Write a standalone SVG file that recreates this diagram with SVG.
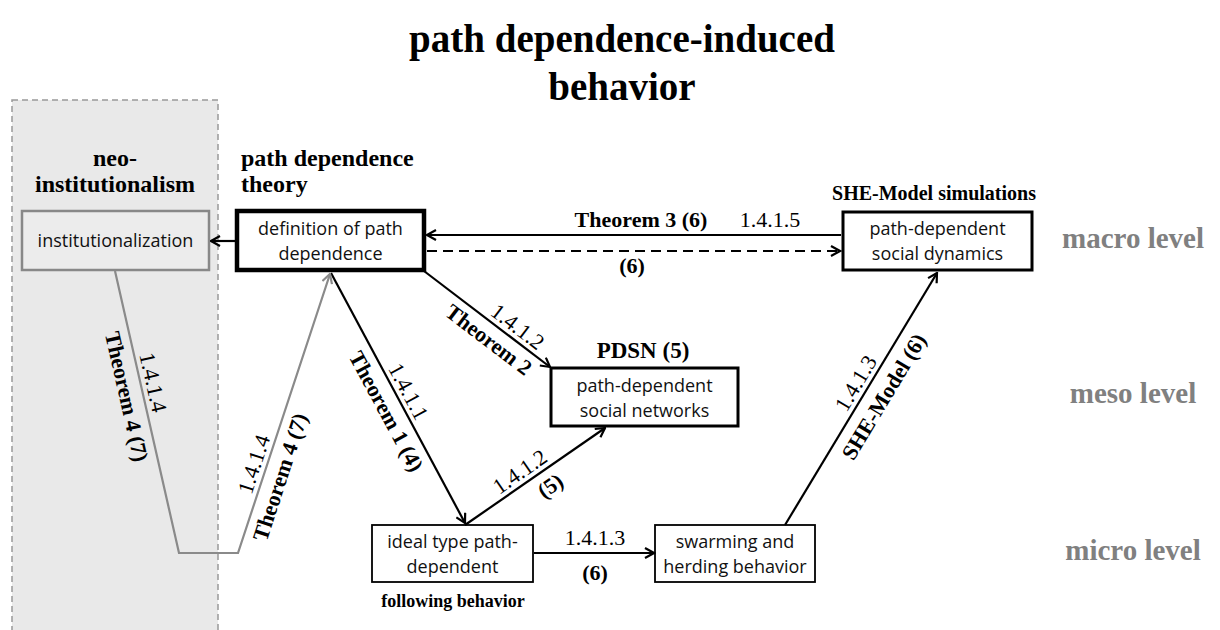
<svg xmlns="http://www.w3.org/2000/svg" width="1220" height="630" viewBox="0 0 1220 630">
  <defs>
    <style>
      .ser { font-family: "Liberation Serif", "Times New Roman", serif; }
      .b { font-weight: bold; }
      .lbl { font-family: "Liberation Serif", "Times New Roman", serif; font-size: 22px; fill: #000; }
      .box { font-family: "Open Sans", "Liberation Sans", sans-serif; font-size: 18px; fill: #111; text-anchor: middle; }
      .lvl { font-family: "Liberation Serif", "Times New Roman", serif; font-size: 29px; font-weight: bold; fill: #808080; text-anchor: middle; }
      .hdr { font-family: "Liberation Serif", "Times New Roman", serif; font-size: 24px; font-weight: bold; fill: #000; }
      .conn { fill: none; stroke: #000; stroke-width: 2.2; }
      .gray { fill: none; stroke: #8a8a8a; stroke-width: 2.2; }
    </style>
    <marker id="ah" viewBox="0 0 12 12" markerWidth="12" markerHeight="12" refX="10.5" refY="6" orient="auto" markerUnits="userSpaceOnUse">
      <path d="M1.5,1 L10.5,6 L1.5,11" fill="none" stroke="#000" stroke-width="2.2"/>
    </marker>
    <marker id="ahg" viewBox="0 0 12 12" markerWidth="12" markerHeight="12" refX="10.5" refY="6" orient="auto" markerUnits="userSpaceOnUse">
      <path d="M1.5,1 L10.5,6 L1.5,11" fill="none" stroke="#8a8a8a" stroke-width="2.2"/>
    </marker>
  </defs>

  <rect width="1220" height="630" fill="#fff"/>

  <!-- title -->
  <g id="title" class="ser b" font-size="39" text-anchor="middle">
    <text x="622" y="52">path dependence-induced</text>
    <text x="622" y="100">behavior</text>
  </g>

  <!-- neo-institutionalism region -->
  <g id="neo-institutionalism">
    <rect x="12" y="100" width="206" height="540" fill="#e9e9e9" stroke="#999" stroke-width="1.5" stroke-dasharray="6,4"/>
    <text class="hdr" x="115" y="166" text-anchor="middle">neo-</text>
    <text class="hdr" x="115" y="192" text-anchor="middle">institutionalism</text>
  </g>

  <!-- level labels -->
  <g id="levels">
    <text class="lvl" x="1133" y="248">macro level</text>
    <text class="lvl" x="1133" y="403">meso level</text>
    <text class="lvl" x="1133" y="560">micro level</text>
  </g>

  <!-- nodes -->
  <g id="institutionalization">
    <rect x="22" y="211" width="187" height="59" fill="#ececec" stroke="#888" stroke-width="2.5"/>
    <text class="box" x="115.5" y="247">institutionalization</text>
  </g>

  <g id="definition">
    <text class="hdr" x="241" y="166">path dependence</text>
    <text class="hdr" x="241" y="192">theory</text>
    <rect x="237" y="211" width="187" height="59" fill="#fff" stroke="#000" stroke-width="4.5"/>
    <text class="box" x="330.5" y="235">definition of path</text>
    <text class="box" x="330.5" y="260">dependence</text>
  </g>

  <g id="social-dynamics">
    <text class="ser b" font-size="20" x="934" y="200" text-anchor="middle">SHE-Model simulations</text>
    <rect x="843" y="212" width="189" height="58" fill="#fff" stroke="#000" stroke-width="3"/>
    <text class="box" x="937.5" y="235">path-dependent</text>
    <text class="box" x="937.5" y="260">social dynamics</text>
  </g>

  <g id="social-networks">
    <text class="ser b" font-size="23" x="643" y="358" text-anchor="middle">PDSN (5)</text>
    <rect x="551" y="368" width="187" height="58" fill="#fff" stroke="#000" stroke-width="3"/>
    <text class="box" x="644.5" y="392">path-dependent</text>
    <text class="box" x="644.5" y="417">social networks</text>
  </g>

  <g id="ideal-type">
    <rect x="372" y="525" width="161" height="57" fill="#fff" stroke="#000" stroke-width="1.8"/>
    <text class="box" x="452.5" y="548">ideal type path-</text>
    <text class="box" x="452.5" y="573">dependent</text>
    <text class="ser b" font-size="18" x="453" y="607" text-anchor="middle">following behavior</text>
  </g>

  <g id="swarming">
    <rect x="655" y="525" width="160" height="57" fill="#fff" stroke="#000" stroke-width="1.8"/>
    <text class="box" x="735" y="548">swarming and</text>
    <text class="box" x="735" y="573">herding behavior</text>
  </g>

  <!-- connectors -->
  <g id="connectors">
    <line class="conn" x1="235" y1="241" x2="211" y2="241" marker-end="url(#ah)"/>
    <line class="conn" x1="841" y1="235" x2="427" y2="235" marker-end="url(#ah)"/>
    <line class="conn" x1="427" y1="251" x2="840" y2="251" stroke-dasharray="10,6" marker-end="url(#ah)"/>
    <line class="conn" x1="424" y1="271" x2="550" y2="367" marker-end="url(#ah)"/>
    <line class="conn" x1="331" y1="273" x2="465" y2="523" marker-end="url(#ah)"/>
    <line class="conn" x1="465" y1="525" x2="605" y2="428" marker-end="url(#ah)"/>
    <line class="conn" x1="534" y1="553" x2="654" y2="553" marker-end="url(#ah)"/>
    <line class="conn" x1="785" y1="525" x2="937" y2="273" marker-end="url(#ah)"/>
    <polyline class="gray" points="115,271 179,553 238,553 330,274" marker-end="url(#ahg)"/>

    <!-- connector labels -->
    <g class="lbl">
      <text x="700" y="227" text-anchor="middle" font-weight="bold" dx="-59">Theorem 3 (6)</text>
      <text x="770" y="227" text-anchor="middle">1.4.1.5</text>
      <text x="632" y="273" text-anchor="middle" font-weight="bold">(6)</text>

      <g transform="translate(503,331) rotate(37.3)">
        <text x="9" y="-5" text-anchor="middle">1.4.1.2</text>
        <text x="-6" y="23" text-anchor="middle" font-weight="bold">Theorem 2</text>
      </g>

      <g transform="translate(399,400) rotate(61.8)">
        <text x="-3" y="-5" text-anchor="middle">1.4.1.1</text>
        <text x="4" y="24" text-anchor="middle" font-weight="bold">Theorem 1 (4)</text>
      </g>

      <g transform="translate(531,479) rotate(-34.7)">
        <text x="-5" y="-5" text-anchor="middle">1.4.1.2</text>
        <text x="12" y="24" text-anchor="middle" font-weight="bold">(5)</text>
      </g>

      <text x="595" y="545" text-anchor="middle">1.4.1.3</text>
      <text x="595" y="580" text-anchor="middle" font-weight="bold">(6)</text>

      <g transform="translate(868,387) rotate(-58.9)">
        <text x="-3" y="-5" text-anchor="middle">1.4.1.3</text>
        <text x="0" y="26" text-anchor="middle" font-weight="bold">SHE-Model (6)</text>
      </g>

      <g transform="translate(142,389) rotate(77.3)">
        <text x="-4" y="-5" text-anchor="middle">1.4.1.4</text>
        <text x="4" y="24" text-anchor="middle" font-weight="bold">Theorem 4 (7)</text>
      </g>

      <g transform="translate(265,470) rotate(-71.8)">
        <text x="2" y="-5" text-anchor="middle">1.4.1.4</text>
        <text x="-2" y="24" text-anchor="middle" font-weight="bold">Theorem 4 (7)</text>
      </g>
    </g>
  </g>
</svg>
